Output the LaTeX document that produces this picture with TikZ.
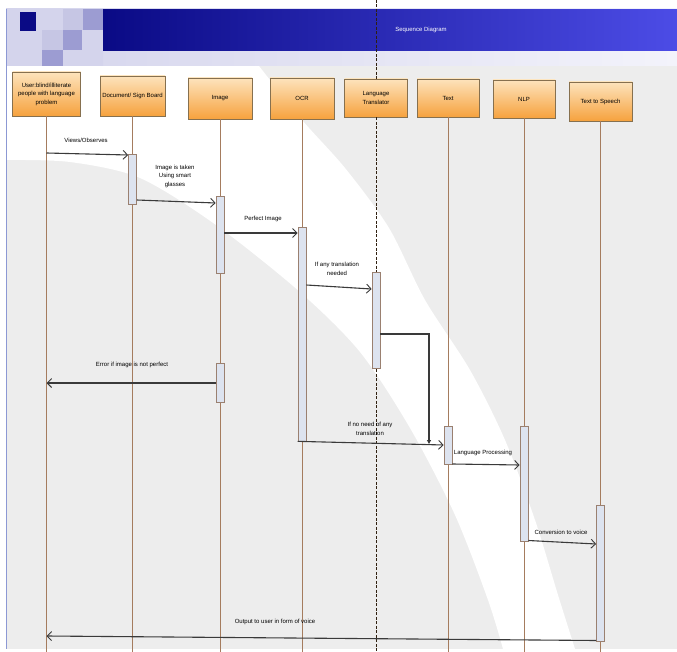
\documentclass[tikz,border=0pt]{standalone}
\usepackage{fontspec}
\setmainfont{Liberation Sans}
\usetikzlibrary{arrows.meta}
\definecolor{slidebg}{HTML}{EDEDED}
\definecolor{navy}{HTML}{0A0A85}
\definecolor{barright}{HTML}{4C4CE6}
\definecolor{lav}{HTML}{D4D4EC}
\definecolor{lavpale}{HTML}{F3F3FB}
\definecolor{lavmid}{HTML}{9C9CD2}
\definecolor{lavlight}{HTML}{C6C6E4}
\definecolor{boxtop}{HTML}{FDE3BC}
\definecolor{boxbot}{HTML}{F6A23E}
\definecolor{boxline}{HTML}{86704F}
\definecolor{lifecol}{HTML}{A57C5E}
\definecolor{actfill}{HTML}{DDE3EF}
\definecolor{actline}{HTML}{9A8070}
\definecolor{msgcol}{HTML}{3A3A3A}
\definecolor{sidecol}{HTML}{8C98D4}
\begin{document}
\begin{tikzpicture}[x=1pt,y=-1pt,
  obj/.style={draw=boxline, line width=0.8pt, top color=boxtop, bottom color=boxbot,
    align=center, font=\fontsize{6}{8.5}\selectfont, inner sep=0pt},
  act/.style={draw=actline, fill=actfill, line width=0.7pt, minimum width=8pt, inner sep=0pt},
  lifeline/.style={draw=lifecol, line width=0.6pt},
  msg/.style={draw=msgcol, line width=1.1pt, -{Straight Barb[length=4.5pt,width=9pt,line width=0.9pt]}},
  lbl/.style={font=\fontsize{6}{8.5}\selectfont, align=center, inner sep=0pt, text=black}]
\useasboundingbox (0,0) rectangle (677,652);
% background slide
\fill[white] (0,0) rectangle (677,652);
\fill[slidebg] (6,9) rectangle (677,649);
\fill[white] plot[smooth] coordinates {(6,160) (70,162) (140,178) (216,225) (300,292) (360,352) (410,428) (455,515) (488,600) (503,649)}
  -- (575,649) -- plot[smooth] coordinates {(575,649) (558,595) (535,520) (505,440) (470,370) (425,300) (389,228) (345,168) (302,120) (259,66)}
  -- (6,66) -- cycle;
% header
\shade[left color=lav, right color=lavpale] (6,9) rectangle (677,66);
\fill[lav] (6,9) rectangle (103,66);
\fill[lavlight] (62.5,9.5) rectangle (82.5,30.5);
\fill[lavlight] (42,30.5) rectangle (62.5,50);
\fill[lavmid] (82.5,9.5) rectangle (103,30.5);
\fill[lavmid] (62.5,30.5) rectangle (82,50);
\fill[lavmid] (42,50) rectangle (62.5,66);
\fill[navy] (19.5,12) rectangle (35.5,31.5);
\shade[left color=navy, right color=barright] (103,10) rectangle (677,51);
\node[lbl, text=white] (title) at (421,30) {Sequence Diagram};
\draw[sidecol, line width=0.8pt] (6.4,9) -- (6.4,649);
\coordinate (bot) at (0,652);
\coordinate (top) at (0,0);
% objects
\node[obj, minimum width=68pt, minimum height=44pt] (user) at (46.5,94) {User:blind/illiterate\\people with language\\problem};
\node[obj, minimum width=65pt, minimum height=40pt] (doc) at (132.5,96) {Document/ Sign Board};
\node[obj, minimum width=64pt, minimum height=41pt] (img) at (220,98.5) {Image};
\node[obj, minimum width=64pt, minimum height=41pt] (ocr) at (302,98.5) {OCR};
\node[obj, minimum width=63pt, minimum height=38pt] (lang) at (376,98) {Language\\Translator};
\node[obj, minimum width=62pt, minimum height=38pt] (text) at (448,98) {Text};
\node[obj, minimum width=62pt, minimum height=38pt] (nlp) at (524,99) {NLP};
\node[obj, minimum width=63pt, minimum height=39pt] (tts) at (600.5,101.5) {Text to Speech};
% lifelines
\draw[lifeline] (user.south) -- (user.south |- bot);
\draw[lifeline] (doc.south) -- (doc.south |- bot);
\draw[lifeline] (img.south) -- (img.south |- bot);
\draw[lifeline] (ocr.south) -- (ocr.south |- bot);
\draw[draw=black!75!brown, line width=0.7pt, dash pattern=on 3pt off 1.5pt] (lang.north |- top) -- (lang.north);
\draw[draw=black!75!brown, line width=0.7pt, dash pattern=on 3pt off 1.5pt] (lang.south) -- (lang.south |- bot);
\draw[lifeline] (text.south) -- (text.south |- bot);
\draw[lifeline] (nlp.south) -- (nlp.south |- bot);
\draw[lifeline] (tts.south) -- (tts.south |- bot);
% activation bars
\node[act, minimum height=50pt] (a1) at (132.5,179) {};
\node[act, minimum height=77pt] (a2) at (220,234.5) {};
\node[act, minimum height=214pt] (a3) at (302,334) {};
\node[act, minimum height=96pt] (a4) at (376,320) {};
\node[act, minimum height=39pt] (a5) at (220,382.5) {};
\node[act, minimum height=38pt] (a6) at (448,445) {};
\node[act, minimum height=115pt] (a7) at (524,483.5) {};
\node[act, minimum height=136pt] (a8) at (600.5,573) {};
% messages
\coordinate (j) at (429,444);
\draw[msg] (user.south |- 0,153) -- (a1.west |- 0,155);
\draw[msg] (a1.east |- 0,200) -- (a2.west |- 0,203);
\draw[msg] (a2.east |- 0,233) -- (a3.west |- 0,233);
\draw[msg] (a3.east |- 0,285) -- (a4.west |- 0,289);
\draw[draw=msgcol, line width=1.1pt, -{Triangle[length=4pt,width=4pt]}] (a4.east |- 0,334) -| (j);
\draw[msg] (a5.west |- 0,383) -- (user.south |- 0,383);
\draw[msg] (a3.south west) -- (a6.west |- 0,445);
\draw[msg] (a6.east |- 0,464) -- (a7.west |- 0,465);
\draw[msg] (a7.east |- 0,540.5) -- (a8.west |- 0,544);
\draw[msg] (a8.west |- 0,640.5) -- (user.south |- 0,636);
% labels
\node[lbl] (l1) at (86,140) {Views/Observes};
\node[lbl] (l2) at (175,176) {Image is taken\\Using smart\\glasses};
\node[lbl] (l3) at (263,219) {Perfect Image};
\node[lbl] (l4) at (337,269) {If any translation\\needed};
\node[lbl] (l5) at (132,364.5) {Error if image is not perfect};
\node[lbl] (l6) at (370,429) {If no need of any\\translation};
\node[lbl] (l7) at (483,453) {Language Processing};
\node[lbl] (l8) at (561,532) {Conversion to voice};
\node[lbl] (l9) at (275,621.5) {Output to user in form of voice};
\end{tikzpicture}
\end{document}
